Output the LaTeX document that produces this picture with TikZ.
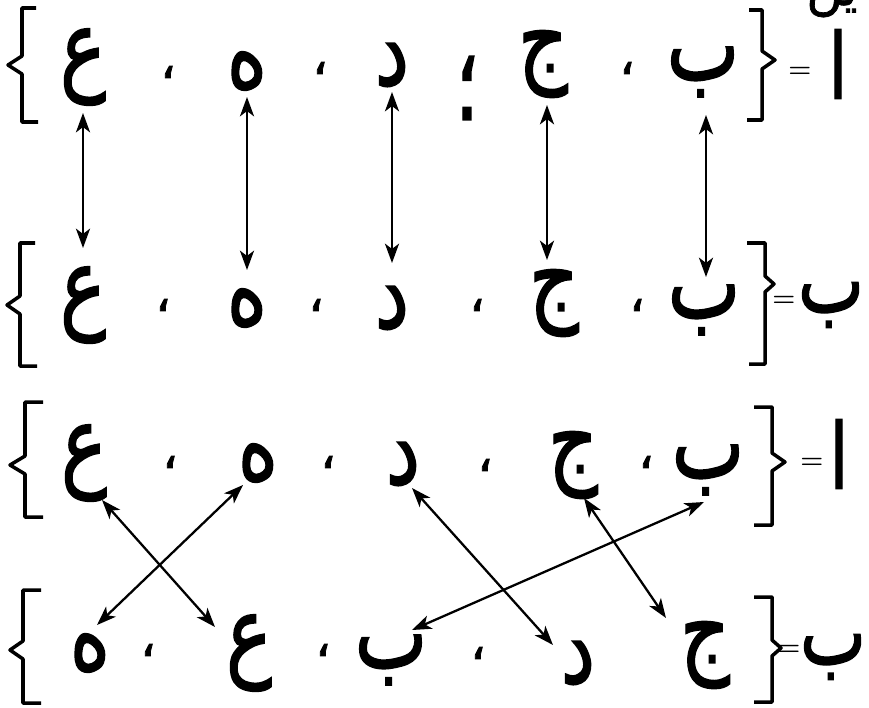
\documentclass[tikz,border=0pt]{standalone}
\usepackage{graphicx}
\usepackage{fontspec}
\usetikzlibrary{arrows.meta}
\TeXXeTstate=1
\newfontfamily\arabicfont[Script=Arabic, FakeBold=1.5]{DejaVu Sans}
\newcommand{\harf}[1]{\scalebox{1}[1.3]{\beginR #1\endR}}

\tikzset{
  letter/.style={font=\arabicfont\fontsize{44}{44}\selectfont, inner sep=0pt},
  setname/.style={font=\arabicfont\fontsize{40}{40}\selectfont, inner sep=0pt},
  sep/.style={font=\arabicfont\fontsize{28}{28}\selectfont, inner sep=0pt},
  eqsign/.style={font=\bfseries\fontsize{15}{15}\selectfont, inner sep=0pt},
  bracket/.style={line width=2pt, line join=round},
  link/.style={{Stealth[length=11pt,width=8pt,inset=3pt]}-{Stealth[length=11pt,width=8pt,inset=3pt]}, line width=1.3pt},
}

\begin{document}
\begin{tikzpicture}[x=0.02cm, y=-0.02cm]
  \useasboundingbox (0,0) rectangle (869,707);

  % cut-off words at the top edge
  \node[sep] (note) at (832,4) {\beginR یں\endR};

  % first pair: same order
  \draw[bracket] (36,8) -- (22,8) -- (22,56) -- (8,65) -- (22,74) -- (22,122) -- (38,122);
  \node[letter] (aAin) at (83,67) {\harf{ع}};
  \node[sep] at (168,72) {\beginR ،\endR};
  \node[letter] (aHe) at (247,71) {\harf{ه}};
  \node[sep] at (320,68) {\beginR ،\endR};
  \node[letter] (aDal) at (392,65) {\harf{د}};
  \node[letter] at (467,88) {\harf{؛}};
  \node[letter] (aJim) at (543,64) {\harf{ج}};
  \node[sep] at (627,68) {\beginR ،\endR};
  \node[letter] (aBe) at (703,72) {\harf{ب}};
  \draw[bracket] (749,10) -- (762,10) -- (762,51) -- (775,60) -- (762,69) -- (762,120) -- (747,120);
  \node[eqsign] at (800,72) {=};
  \node[setname] (aName) at (838,64) {\harf{ا}};

  \draw[bracket] (35,243) -- (20,243) -- (20,296) -- (7,305) -- (20,314) -- (20,366) -- (37,366);
  \node[letter] (bAin) at (83,305) {\harf{ع}};
  \node[sep] at (163,305) {\beginR ،\endR};
  \node[letter] (bHe) at (247,308) {\harf{ه}};
  \node[sep] at (316,305) {\beginR ،\endR};
  \node[letter] (bDal) at (392,308) {\harf{د}};
  \node[sep] at (477,305) {\beginR ،\endR};
  \node[letter] (bJim) at (554,303) {\harf{ج}};
  \node[sep] at (637,305) {\beginR ،\endR};
  \node[letter] (bBe) at (704,310) {\harf{ب}};
  \draw[bracket] (747,243) -- (765,243) -- (765,276) -- (774,284) -- (765,292) -- (765,364) -- (749,364);
  \node[eqsign] at (784,301) {=};
  \node[setname] (bName) at (831,305) {\harf{ب}};

  % one to one, straight down
  \draw[link] ([shift={(0,46)}]aAin.center) -- ([shift={(0,-57)}]bAin.center);
  \draw[link] ([shift={(0,26)}]aHe.center) -- ([shift={(0,-38)}]bHe.center);
  \draw[link] ([shift={(0,27)}]aDal.center) -- ([shift={(0,-45)}]bDal.center);
  \draw[link] ([shift={(4,41)}]aJim.center) -- ([shift={(-7,-43)}]bJim.center);
  \draw[link] ([shift={(3,43)}]aBe.center) -- ([shift={(2,-33)}]bBe.center);

  % second pair: order changed
  \draw[bracket] (43,402) -- (25,402) -- (25,456) -- (10,465) -- (25,474) -- (25,517) -- (43,517);
  \node[letter] (cAin) at (84,463) {\harf{ع}};
  \node[sep] at (170,462) {\beginR ،\endR};
  \node[letter] (cHe) at (258,463) {\harf{ه}};
  \node[sep] at (328,462) {\beginR ،\endR};
  \node[letter] (cDal) at (403,464) {\harf{د}};
  \node[sep] at (485,465) {\beginR ،\endR};
  \node[letter] (cJim) at (573,465) {\harf{ج}};
  \node[sep] at (646,462) {\beginR ،\endR};
  \node[letter] (cBe) at (708,470) {\harf{ب}};
  \draw[bracket] (754,407) -- (772,407) -- (772,453) -- (785,462) -- (772,471) -- (772,525) -- (754,525);
  \node[eqsign] at (812,463) {=};
  \node[setname] (cName) at (839,454) {\harf{ا}};

  \draw[bracket] (41,590) -- (23,590) -- (23,641) -- (10,650) -- (23,659) -- (23,703) -- (41,703);
  \node[letter] (dHe) at (90,653) {\harf{ه}};
  \node[sep] at (148,650) {\beginR ،\endR};
  \node[letter] (dAin) at (249,653) {\harf{ع}};
  \node[sep] at (323,650) {\beginR ،\endR};
  \node[letter] (dBe) at (391,660) {\harf{ب}};
  \node[sep] at (478,653) {\beginR ،\endR};
  \node[letter] (dDal) at (578,663) {\harf{د}};
  \node[letter] (dJim) at (705,655) {\harf{ج}};
  \draw[bracket] (754,597) -- (772,597) -- (772,640) -- (781,648) -- (772,656) -- (772,702) -- (754,702);
  \node[eqsign] at (789,650) {=};
  \node[setname] (dName) at (833,657) {\harf{ب}};

  % one to one, crossing
  \draw[link] ([shift={(18,37)}]cAin.center) -- ([shift={(-34,-26)}]dAin.center);
  \draw[link] ([shift={(-15,22)}]cHe.center) -- ([shift={(7,-28)}]dHe.center);
  \draw[link] ([shift={(9,24)}]cDal.center) -- ([shift={(-25,-18)}]dDal.center);
  \draw[link] ([shift={(11,33)}]cJim.center) -- ([shift={(-39,-37)}]dJim.center);
  \draw[link] ([shift={(-4,32)}]cBe.center) -- ([shift={(21,-30)}]dBe.center);
\end{tikzpicture}
\end{document}
